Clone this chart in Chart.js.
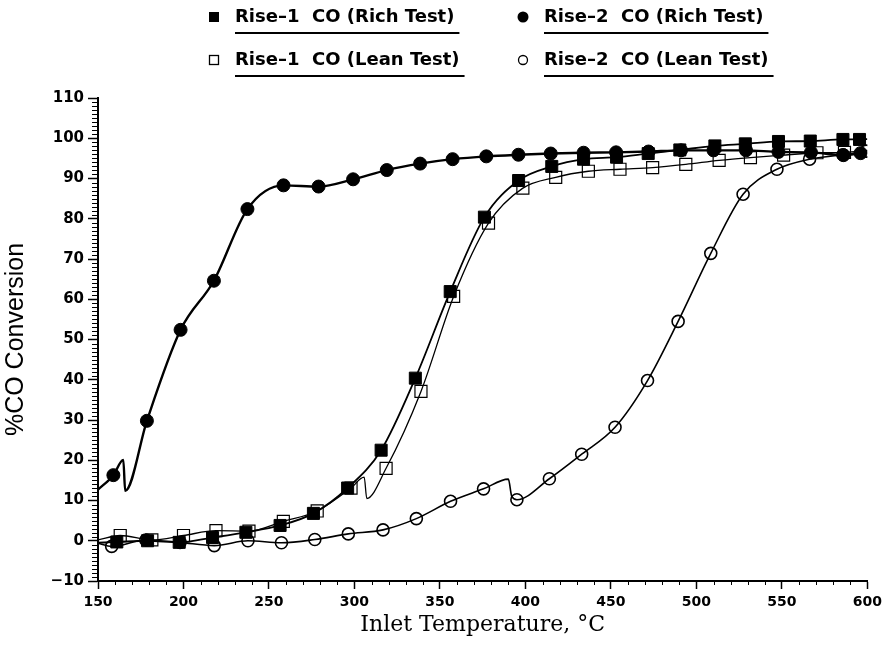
<!DOCTYPE html>
<html>
<head>
<meta charset="utf-8">
<script src="https://cdn.jsdelivr.net/npm/chart.js@4/dist/chart.umd.min.js"></script>
<style>
  html, body { margin: 0; padding: 0; background: #fff; }
  #wrap { width: 887px; height: 645px; }
</style>
</head>
<body>
<div id="wrap"><canvas id="c" width="887" height="645"></canvas></div>
<script>
// ---- Data ----
const seriesNames = ['Rise–1  CO (Rich Test)', 'Rise–2  CO (Rich Test)', 'Rise–1  CO (Lean Test)', 'Rise–2  CO (Lean Test)'];

const xTicks = [150, 200, 250, 300, 350, 400, 450, 500, 550, 600];
const yTicks = [-10, 0, 10, 20, 30, 40, 50, 60, 70, 80, 90, 100, 110];

// Rise-1 CO (Rich Test) – filled squares
const r1RichT = [161, 179, 197.5, 217, 236.5, 256.5, 276, 296, 315.6, 335.6, 356, 376, 396, 415.4, 434, 453.3, 471.8, 490.3, 510.8, 528.6, 548, 566.6, 585.7, 595.4];
const r1RichC = [-0.3, 0, -0.4, 0.8, 2.1, 3.8, 6.8, 13.1, 22.5, 40.4, 61.9, 80.4, 89.5, 93, 94.8, 95.3, 96.2, 97.1, 98.1, 98.6, 99.2, 99.3, 99.7, 99.7];
// Rise-2 CO (Rich Test) – filled circles
const r2RichT = [159, 178.6, 198.3, 217.8, 237.4, 258.5, 279, 299.2, 318.9, 338.4, 357.4, 377.1, 395.9, 414.8, 434, 453, 472, 491, 510, 529, 548, 567, 586, 596];
const r2RichC = [16.3, 29.8, 52.4, 64.6, 82.4, 88.3, 88.0, 89.8, 92.1, 93.7, 94.8, 95.5, 95.9, 96.2, 96.4, 96.5, 96.7, 97, 97, 97, 96.6, 96.5, 95.8, 96.3];
// Rise-1 CO (Lean Test) – open squares
const r1LeanT = [163, 181.5, 200, 219, 238.3, 258.4, 278.2, 298, 318.5, 338.9, 358, 378.4, 398.5, 417.7, 436.8, 455.3, 474.4, 493.8, 513.3, 531.6, 551, 570.5, 586.6];
const r1LeanC = [1.3, 0.2, 1.3, 2.5, 2.4, 4.8, 7.4, 13.1, 18, 37.1, 60.7, 78.9, 87.6, 90.3, 91.8, 92.3, 92.7, 93.5, 94.5, 95.2, 95.8, 96.4, 96.5];
// Rise-2 CO (Lean Test) – open circles
const r2LeanT = [158, 178, 198, 218, 237.7, 257.3, 276.8, 296.4, 316.7, 336.2, 356.2, 375.5, 395, 414, 432.9, 452.4, 471.4, 489.3, 508.4, 527.3, 547.1, 566.2, 585.7, 599.3];
const r2LeanC = [-1.4, 0.2, -0.4, -1.2, 0, -0.5, 0.3, 1.7, 2.7, 5.5, 9.8, 12.9, 10.2, 15.4, 21.5, 28.2, 39.8, 54.5, 71.4, 86.1, 92.3, 94.8, 95.9, 96.8];

// Extra knots of the drawn fitted curves (ends and the small saw-tooth glitches)
const r1RichKnotT = [150, 600];
const r1RichKnotC = [-0.5, 99.8];
const r2RichKnotT = [150, 164.8, 165.9, 600];
const r2RichKnotC = [12.7, 20.1, 12.4, 96.5];
const r1LeanKnotT = [150, 305.7, 307.2, 600];
const r1LeanKnotC = [0.2, 15.8, 10.5, 97];
const r2LeanKnotT = [150, 390, 392, 600];
const r2LeanKnotC = [-0.6, 15.3, 11, 96.9];

// ---- Build datasets ----
function pts(t, c) { return t.map((v, i) => ({x: v, y: c[i]})); }
function curve(t, c, kt, kc) { return pts(t, c).concat(pts(kt, kc)).sort((a, b) => a.x - b.x); }

const lineCommon = { showLine: true, pointRadius: 0, pointHoverRadius: 0, cubicInterpolationMode: 'monotone', borderColor: '#000', fill: false };

const datasets = [
  Object.assign({}, lineCommon, { label: 'c1', data: curve(r1RichT, r1RichC, r1RichKnotT, r1RichKnotC), borderWidth: 1.8, order: 5 }),
  Object.assign({}, lineCommon, { label: 'c2', data: curve(r2RichT, r2RichC, r2RichKnotT, r2RichKnotC), borderWidth: 2.4, order: 5 }),
  Object.assign({}, lineCommon, { label: 'c3', data: curve(r1LeanT, r1LeanC, r1LeanKnotT, r1LeanKnotC), borderWidth: 1.3, order: 5 }),
  Object.assign({}, lineCommon, { label: 'c4', data: curve(r2LeanT, r2LeanC, r2LeanKnotT, r2LeanKnotC), borderWidth: 1.6, order: 5 }),
  { label: seriesNames[2], data: pts(r1LeanT, r1LeanC), showLine: false, pointStyle: 'rect', pointRadius: 8.5, pointBorderWidth: 1.2, pointBorderColor: '#000', pointBackgroundColor: 'rgba(0,0,0,0)', order: 4 },
  { label: seriesNames[3], data: pts(r2LeanT, r2LeanC), showLine: false, pointStyle: 'circle', pointRadius: 6, pointBorderWidth: 1.6, pointBorderColor: '#000', pointBackgroundColor: 'rgba(0,0,0,0)', order: 3 },
  { label: seriesNames[1], data: pts(r2RichT, r2RichC), showLine: false, pointStyle: 'circle', pointRadius: 6.5, pointBorderWidth: 1, pointBorderColor: '#000', pointBackgroundColor: '#000', order: 2 },
  { label: seriesNames[0], data: pts(r1RichT, r1RichC), showLine: false, pointStyle: 'rect', pointRadius: 8.5, pointBorderWidth: 1, pointBorderColor: '#000', pointBackgroundColor: '#000', order: 1 }
];

// ---- Plugins ----
const minorTicks = {
  id: 'minorTicks',
  afterDraw(chart) {
    const ctx = chart.ctx, xs = chart.scales.x, ys = chart.scales.y;
    ctx.save();
    ctx.strokeStyle = '#000';
    ctx.lineWidth = 1;
    ctx.beginPath();
    for (let v = xs.min; v <= xs.max; v += 10) {
      if (v % 50 === 0) continue;
      const px = Math.round(xs.getPixelForValue(v)) + 0.5;
      ctx.moveTo(px, xs.top); ctx.lineTo(px, xs.top + 4);
    }
    for (let v = ys.min; v <= ys.max; v += 1) {
      if (v % 10 === 0) continue;
      const py = Math.round(ys.getPixelForValue(v)) + 0.5;
      ctx.moveTo(ys.right - 6, py); ctx.lineTo(ys.right, py);
    }
    ctx.stroke();
    ctx.restore();
  }
};

const customLegend = {
  id: 'customLegend',
  afterDraw(chart) {
    const ctx = chart.ctx;
    const items = [
      { text: seriesNames[0], style: 'rect', fill: true,  x: 214, y: 17 },
      { text: seriesNames[1], style: 'circle', fill: true, x: 523, y: 17 },
      { text: seriesNames[2], style: 'rect', fill: false, x: 214, y: 60 },
      { text: seriesNames[3], style: 'circle', fill: false, x: 523, y: 60 }
    ];
    ctx.save();
    ctx.font = 'bold 18px "DejaVu Sans"';
    ctx.textBaseline = 'middle';
    ctx.fillStyle = '#000';
    ctx.strokeStyle = '#000';
    items.forEach(it => {
      ctx.lineWidth = 1.3;
      if (it.style === 'rect') {
        if (it.fill) ctx.fillRect(it.x - 5, it.y - 5, 10, 10);
        else ctx.strokeRect(it.x - 4.5, it.y - 4.5, 9, 9);
      } else {
        ctx.beginPath();
        ctx.arc(it.x, it.y, it.fill ? 5.5 : 4.5, 0, Math.PI * 2);
        if (it.fill) ctx.fill(); else ctx.stroke();
      }
      const tx = it.x + 21;
      ctx.fillText(it.text, tx, it.y);
      const w = ctx.measureText(it.text).width;
      ctx.lineWidth = 2;
      ctx.beginPath();
      ctx.moveTo(tx, it.y + 16); ctx.lineTo(tx + w + 5, it.y + 16);
      ctx.stroke();
    });
    ctx.restore();
  }
};

new Chart(document.getElementById('c'), {
  type: 'scatter',
  data: { datasets },
  options: {
    responsive: false,
    animation: false,
    devicePixelRatio: 1,
    layout: { padding: { top: 98, right: 19, left: 0, bottom: 0 } },
    plugins: { legend: { display: false }, tooltip: { enabled: false } },
    scales: {
      x: {
        type: 'linear',
        min: xTicks[0], max: xTicks[xTicks.length - 1],
        afterBuildTicks(scale) { scale.ticks = xTicks.map(v => ({ value: v })); },
        afterFit(scale) { scale.height = 64; },
        ticks: { color: '#000', font: { family: '"DejaVu Sans"', weight: 'bold', size: 14 }, padding: 5, maxRotation: 0, autoSkip: false },
        grid: { display: true, drawOnChartArea: false, tickLength: 8, tickColor: '#000', tickWidth: 1.5 },
        border: { display: true, color: '#000', width: 2 },
        title: { display: true, text: 'Inlet Temperature, °C', color: '#000', font: { family: '"DejaVu Serif"', size: 22 }, padding: { top: 0, bottom: 7 } }
      },
      y: {
        type: 'linear',
        min: yTicks[0], max: yTicks[yTicks.length - 1],
        afterBuildTicks(scale) { scale.ticks = yTicks.map(v => ({ value: v })); },
        afterFit(scale) { scale.width = 98; },
        ticks: { color: '#000', font: { family: '"DejaVu Sans"', weight: 'bold', size: 15 }, padding: 4, autoSkip: false,
                 callback: v => (v < 0 ? '\u2212' + Math.abs(v) : String(v)) },
        grid: { display: true, drawOnChartArea: false, tickLength: 10, tickColor: '#000', tickWidth: 1.5 },
        border: { display: true, color: '#000', width: 2 },
        title: { display: true, text: '%CO Conversion', color: '#000', font: { family: '"Liberation Sans"', size: 25 }, padding: { top: 1, bottom: 0 } }
      }
    }
  },
  plugins: [minorTicks, customLegend]
});
</script>
</body>
</html>
